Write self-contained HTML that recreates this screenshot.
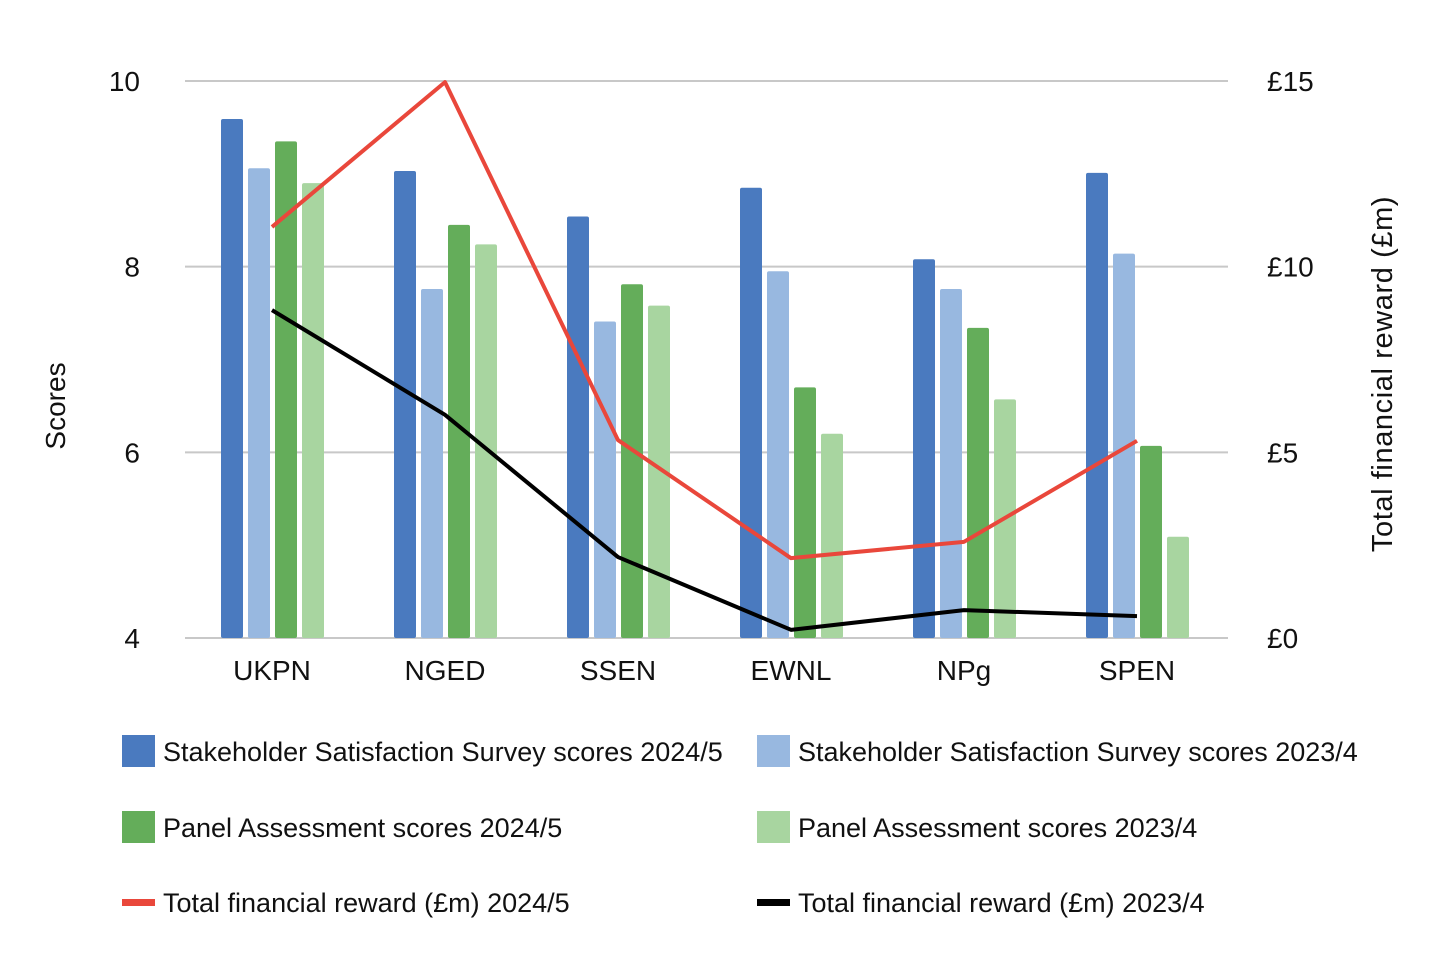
<!DOCTYPE html>
<html><head><meta charset="utf-8"><style>
body{margin:0;background:#fff;}
svg text{font-family:"Liberation Sans",Arial,sans-serif;fill:#111;}
</style></head><body>
<svg id="chart" width="1444" height="961" viewBox="0 0 1444 961" xmlns="http://www.w3.org/2000/svg">
<g id="grid"></g><g id="bars"></g><g id="lines"></g><g id="axes"></g><g id="legend"></g>
</svg>
<script>
const categories=["UKPN","NGED","SSEN","EWNL","NPg","SPEN"];
const sss2425=[9.59,9.03,8.54,8.85,8.08,9.01];
const sss2324=[9.06,7.76,7.41,7.95,7.76,8.14];
const panel2425=[9.35,8.45,7.81,6.70,7.34,6.07];
const panel2324=[8.90,8.24,7.58,6.20,6.57,5.09];
const reward2425=[11.07,14.97,5.33,2.15,2.59,5.31];
const reward2324=[8.83,6.01,2.18,0.22,0.75,0.59];
const leftTicks=[4,6,8,10];
const rightTicks=[0,5,10,15];
const rightTickLabels=["£0","£5","£10","£15"];

const NS="http://www.w3.org/2000/svg";
function mk(tag,attrs,parent,txt){const e=document.createElementNS(NS,tag);for(const k in attrs)e.setAttribute(k,attrs[k]);if(txt!==undefined)e.textContent=txt;parent.appendChild(e);return e;}
const yL=v=>638-(v-4)*(557/6);
const yR=v=>638-v*(557/15);
const xC=i=>272+i*173;
const G=document.getElementById('grid'),B=document.getElementById('bars'),L=document.getElementById('lines'),A=document.getElementById('axes'),LG=document.getElementById('legend');

leftTicks.forEach((t,i)=>{
  const ln=mk('line',{x1:185,x2:1228,y1:yL(t),y2:yL(t),stroke:'#c8c8c8','stroke-width':2},G);
  
  
  const tx=mk('text',{x:140,y:yL(t)+10,'text-anchor':'end','font-size':28},A,String(t));
  
  
});
rightTicks.forEach((t,i)=>{
  const tx=mk('text',{x:1267,y:yR(t)+10,'font-size':28},A,rightTickLabels[i]);
  
  
});
categories.forEach((c,i)=>{
  const tx=mk('text',{x:xC(i),y:680,'text-anchor':'middle','font-size':28},A,c);
  
  
});
let t1=mk('text',{x:0,y:0,'text-anchor':'middle','font-size':28,transform:'translate(65,406) rotate(-90)'},A,'Scores');


let t2=mk('text',{x:0,y:0,'text-anchor':'middle','font-size':29,'letter-spacing':0.6,transform:'translate(1392,374) rotate(-90)'},A,'Total financial reward (£m)');



const series=[[sss2425,'#4a7abf'],[sss2324,'#98b8e0'],[panel2425,'#64ad5a'],[panel2324,'#a8d5a0']];
series.forEach((s,si)=>{
  s[0].forEach((v,i)=>{
    const x=xC(i)-51+si*27;
    const r=mk('rect',{x:x,y:yL(v),width:22,height:638-yL(v),fill:s[1],rx:2},B);
    
    
  });
});
[[reward2425,'#e9473b'],[reward2324,'#000']].forEach((s,si)=>{
  const p=mk('polyline',{points:s[0].map((v,i)=>xC(i)+','+yR(v)).join(' '),fill:'none',stroke:s[1],'stroke-width':4,'stroke-linejoin':'round'},L);
  
  
});

const leg=[["Stakeholder Satisfaction Survey scores 2024/5",'#4a7abf',0,0,'r'],["Stakeholder Satisfaction Survey scores 2023/4",'#98b8e0',1,0,'r'],
["Panel Assessment scores 2024/5",'#64ad5a',0,1,'r'],["Panel Assessment scores 2023/4",'#a8d5a0',1,1,'r'],
["Total financial reward (£m) 2024/5",'#e9473b',0,2,'l'],["Total financial reward (£m) 2023/4",'#000',1,2,'l']];
leg.forEach(e=>{
  const x=e[2]?757:122, y=[751,827,902][e[3]];
  const g=mk('g',{},LG);
  
  
  if(e[4]==='r') mk('rect',{x:x,y:y-16,width:33,height:32,fill:e[1]},g);
  else mk('rect',{x:x,y:y-3,width:33,height:7,fill:e[1]},g);
  mk('text',{x:x+41,y:y+10,'font-size':27},g,e[0]);
});
</script>
</body></html>
